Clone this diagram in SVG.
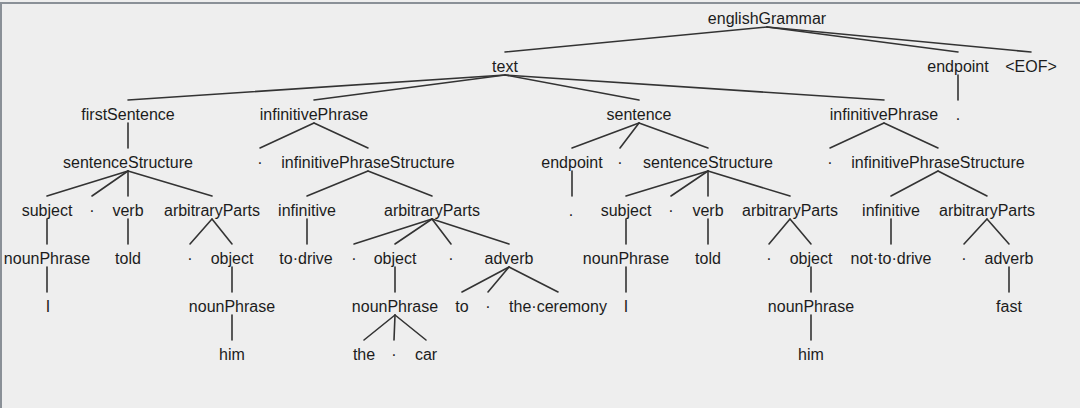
<svg xmlns="http://www.w3.org/2000/svg" width="1080" height="408" viewBox="0 0 1080 408">
<style>
.t{font-family:"Liberation Sans",Arial,sans-serif;font-size:16px;fill:#1c1c1c;text-anchor:middle}
.e line{stroke:#333;stroke-width:1.6;stroke-linecap:round}
</style>
<rect x="0" y="0" width="1080" height="408" fill="#eeeeee"/>
<rect x="0" y="2" width="1080" height="2" fill="#8a9097"/>
<rect x="0" y="2" width="2" height="406" fill="#8a9097"/>
<g id="connectors" class="e">
<line x1="767" y1="27" x2="505" y2="52"/><line x1="767" y1="27" x2="958" y2="52"/><line x1="767" y1="27" x2="1031" y2="52"/>
<line x1="505" y1="75" x2="128" y2="100"/><line x1="505" y1="75" x2="314" y2="100"/><line x1="505" y1="75" x2="639" y2="100"/><line x1="505" y1="75" x2="884" y2="100"/>
<line x1="958" y1="75" x2="958" y2="100"/>
<line x1="128" y1="123" x2="128" y2="148"/>
<line x1="314" y1="123" x2="260" y2="148"/><line x1="314" y1="123" x2="368" y2="148"/>
<line x1="639" y1="123" x2="572" y2="148"/><line x1="639" y1="123" x2="620" y2="148"/><line x1="639" y1="123" x2="708" y2="148"/>
<line x1="884" y1="123" x2="830" y2="148"/><line x1="884" y1="123" x2="938" y2="148"/>
<line x1="128" y1="171" x2="47" y2="196"/><line x1="128" y1="171" x2="92" y2="196"/><line x1="128" y1="171" x2="128" y2="196"/><line x1="128" y1="171" x2="212" y2="196"/>
<line x1="368" y1="171" x2="307" y2="196"/><line x1="368" y1="171" x2="432" y2="196"/>
<line x1="572" y1="171" x2="572" y2="196"/>
<line x1="708" y1="171" x2="626" y2="196"/><line x1="708" y1="171" x2="671" y2="196"/><line x1="708" y1="171" x2="708" y2="196"/><line x1="708" y1="171" x2="790" y2="196"/>
<line x1="938" y1="171" x2="891" y2="196"/><line x1="938" y1="171" x2="987" y2="196"/>
<line x1="47" y1="219" x2="47" y2="244"/>
<line x1="128" y1="219" x2="128" y2="244"/>
<line x1="212" y1="219" x2="190" y2="244"/><line x1="212" y1="219" x2="232" y2="244"/>
<line x1="307" y1="219" x2="307" y2="244"/>
<line x1="432" y1="219" x2="354" y2="244"/><line x1="432" y1="219" x2="395" y2="244"/><line x1="432" y1="219" x2="451" y2="244"/><line x1="432" y1="219" x2="509" y2="244"/>
<line x1="626" y1="219" x2="626" y2="244"/>
<line x1="708" y1="219" x2="708" y2="244"/>
<line x1="790" y1="219" x2="769" y2="244"/><line x1="790" y1="219" x2="811" y2="244"/>
<line x1="891" y1="219" x2="891" y2="244"/>
<line x1="987" y1="219" x2="964" y2="244"/><line x1="987" y1="219" x2="1009" y2="244"/>
<line x1="47" y1="267" x2="47" y2="292"/>
<line x1="232" y1="267" x2="232" y2="292"/>
<line x1="395" y1="267" x2="395" y2="292"/>
<line x1="509" y1="267" x2="462" y2="292"/><line x1="509" y1="267" x2="488" y2="292"/><line x1="509" y1="267" x2="558" y2="292"/>
<line x1="626" y1="267" x2="626" y2="292"/>
<line x1="811" y1="267" x2="811" y2="292"/>
<line x1="1009" y1="267" x2="1009" y2="292"/>
<line x1="232" y1="315" x2="232" y2="340"/>
<line x1="395" y1="315" x2="364" y2="340"/><line x1="395" y1="315" x2="394" y2="340"/><line x1="395" y1="315" x2="426" y2="340"/>
<line x1="811" y1="315" x2="811" y2="340"/>
</g>
<g id="n0"><text class="t" x="767" y="24">englishGrammar</text></g>
<g id="n1"><text class="t" x="505" y="72">text</text></g>
<g id="n2"><text class="t" x="958" y="72">endpoint</text></g>
<g id="n3"><text class="t" x="1031" y="72">&lt;EOF&gt;</text></g>
<g id="n4"><text class="t" x="128" y="120">firstSentence</text></g>
<g id="n5"><text class="t" x="314" y="120">infinitivePhrase</text></g>
<g id="n6"><text class="t" x="639" y="120">sentence</text></g>
<g id="n7"><text class="t" x="884" y="120">infinitivePhrase</text></g>
<g id="n8"><text class="t" x="958" y="120">.</text></g>
<g id="n9"><text class="t" x="128" y="168">sentenceStructure</text></g>
<g id="n10"><text class="t" x="260" y="168">·</text></g>
<g id="n11"><text class="t" x="368" y="168">infinitivePhraseStructure</text></g>
<g id="n12"><text class="t" x="572" y="168">endpoint</text></g>
<g id="n13"><text class="t" x="620" y="168">·</text></g>
<g id="n14"><text class="t" x="708" y="168">sentenceStructure</text></g>
<g id="n15"><text class="t" x="830" y="168">·</text></g>
<g id="n16"><text class="t" x="938" y="168">infinitivePhraseStructure</text></g>
<g id="n17"><text class="t" x="47" y="216">subject</text></g>
<g id="n18"><text class="t" x="92" y="216">·</text></g>
<g id="n19"><text class="t" x="128" y="216">verb</text></g>
<g id="n20"><text class="t" x="212" y="216">arbitraryParts</text></g>
<g id="n21"><text class="t" x="307" y="216">infinitive</text></g>
<g id="n22"><text class="t" x="432" y="216">arbitraryParts</text></g>
<g id="n23"><text class="t" x="571" y="216">.</text></g>
<g id="n24"><text class="t" x="626" y="216">subject</text></g>
<g id="n25"><text class="t" x="671" y="216">·</text></g>
<g id="n26"><text class="t" x="708" y="216">verb</text></g>
<g id="n27"><text class="t" x="790" y="216">arbitraryParts</text></g>
<g id="n28"><text class="t" x="891" y="216">infinitive</text></g>
<g id="n29"><text class="t" x="987" y="216">arbitraryParts</text></g>
<g id="n30"><text class="t" x="47" y="264">nounPhrase</text></g>
<g id="n31"><text class="t" x="128" y="264">told</text></g>
<g id="n32"><text class="t" x="190" y="264">·</text></g>
<g id="n33"><text class="t" x="232" y="264">object</text></g>
<g id="n34"><text class="t" x="306" y="264">to·drive</text></g>
<g id="n35"><text class="t" x="354" y="264">·</text></g>
<g id="n36"><text class="t" x="395" y="264">object</text></g>
<g id="n37"><text class="t" x="451" y="264">·</text></g>
<g id="n38"><text class="t" x="509" y="264">adverb</text></g>
<g id="n39"><text class="t" x="626" y="264">nounPhrase</text></g>
<g id="n40"><text class="t" x="708" y="264">told</text></g>
<g id="n41"><text class="t" x="769" y="264">·</text></g>
<g id="n42"><text class="t" x="811" y="264">object</text></g>
<g id="n43"><text class="t" x="891" y="264">not·to·drive</text></g>
<g id="n44"><text class="t" x="964" y="264">·</text></g>
<g id="n45"><text class="t" x="1009" y="264">adverb</text></g>
<g id="n46"><text class="t" x="48" y="312">I</text></g>
<g id="n47"><text class="t" x="232" y="312">nounPhrase</text></g>
<g id="n48"><text class="t" x="395" y="312">nounPhrase</text></g>
<g id="n49"><text class="t" x="462" y="312">to</text></g>
<g id="n50"><text class="t" x="488" y="312">·</text></g>
<g id="n51"><text class="t" x="558" y="312">the·ceremony</text></g>
<g id="n52"><text class="t" x="626" y="312">I</text></g>
<g id="n53"><text class="t" x="811" y="312">nounPhrase</text></g>
<g id="n54"><text class="t" x="1009" y="312">fast</text></g>
<g id="n55"><text class="t" x="232" y="360">him</text></g>
<g id="n56"><text class="t" x="364" y="360">the</text></g>
<g id="n57"><text class="t" x="394" y="360">·</text></g>
<g id="n58"><text class="t" x="426" y="360">car</text></g>
<g id="n59"><text class="t" x="811" y="360">him</text></g>
</svg>
